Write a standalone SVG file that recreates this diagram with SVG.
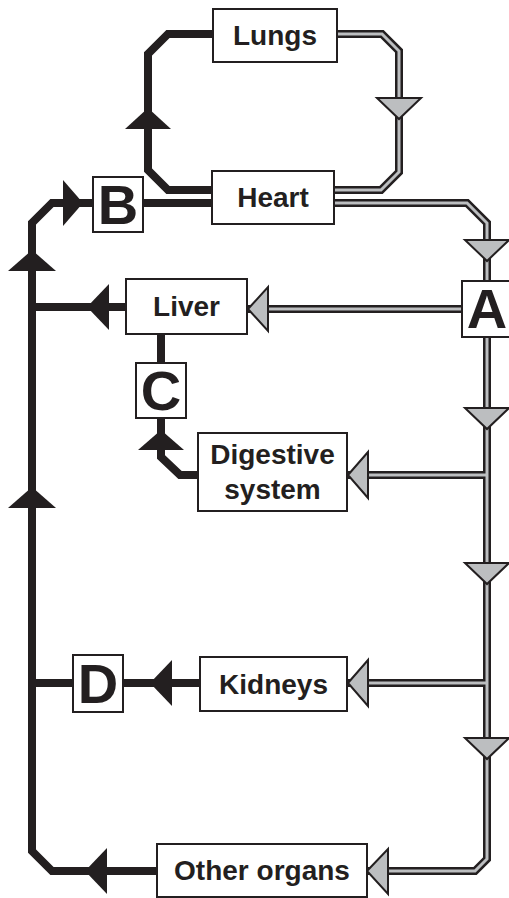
<svg xmlns="http://www.w3.org/2000/svg" width="509" height="898" viewBox="0 0 509 898">
<style>
.bk{fill:none;stroke:#231f20;stroke-width:8;stroke-linejoin:miter}
.go{fill:none;stroke:#231f20;stroke-width:8;stroke-linejoin:miter}
.gi{fill:none;stroke:#bcbec0;stroke-width:3;stroke-linejoin:miter}
.ba{fill:#231f20;stroke:none}
.ga{fill:#bcbec0;stroke:#231f20;stroke-width:2;stroke-linejoin:miter}
.box{fill:#fff;stroke:#231f20;stroke-width:2}
.lbl{font-family:"Liberation Sans",Arial,sans-serif;font-weight:bold;font-size:28px;fill:#231f20;text-anchor:middle}
.let{font-family:"Liberation Sans",Arial,sans-serif;font-weight:bold;font-size:56px;fill:#231f20;text-anchor:middle}
</style>
<rect width="509" height="898" fill="#fff"/>
<g id="connectors">
  <!-- black lines -->
  <path class="bk" d="M212,190 H168 L148,170 V54 L168,34 H213"/>
  <path class="bk" d="M212,203 H143"/>
  <path class="bk" d="M157,871 H52 L32,851 V223 L52,203 H93"/>
  <path class="bk" d="M126,307 H32"/>
  <path class="bk" d="M161,334 V363"/>
  <path class="bk" d="M161,418 V457 L180,475 H198"/>
  <path class="bk" d="M200,683 H123"/>
  <path class="bk" d="M73,683 H32"/>
  <!-- gray double lines: outlines -->
  <path class="go" d="M337,34 H382 L399,51 V172 L381,190 H334"/>
  <path class="go" d="M334,203 H467 L487,223 V859 L475,871 H367"/>
  <path class="go" d="M462,309 H247"/>
  <path class="go" d="M487,475 H347"/>
  <path class="go" d="M487,683 H347"/>
  <!-- gray double lines: inner -->
  <path class="gi" d="M337,34 H382 L399,51 V172 L381,190 H334"/>
  <path class="gi" d="M334,203 H467 L487,223 V859 L475,871 H367"/>
  <path class="gi" d="M462,309 H247"/>
  <path class="gi" d="M487,475 H347"/>
  <path class="gi" d="M487,683 H347"/>
  <!-- black arrowheads -->
  <polygon class="ba" points="148,108 171,129 125,129"/>
  <polygon class="ba" points="83,203 63,180 63,226"/>
  <polygon class="ba" points="32,250 56,271 8,271"/>
  <polygon class="ba" points="32,487 56,508 8,508"/>
  <polygon class="ba" points="87,307 109,284 109,330"/>
  <polygon class="ba" points="161,430 184,450 138,450"/>
  <polygon class="ba" points="150,683 172,660 172,706"/>
  <polygon class="ba" points="85,871 107,848 107,894"/>
  <!-- gray arrowheads -->
  <polygon class="ga" points="377,98 421,98 399,119"/>
  <polygon class="ga" points="465,240 509,240 487,261"/>
  <polygon class="ga" points="465,408 509,408 487,429"/>
  <polygon class="ga" points="465,563 509,563 487,584"/>
  <polygon class="ga" points="465,738 509,738 487,759"/>
  <polygon class="ga" points="248,309 268,287 268,331"/>
  <polygon class="ga" points="348,475 368,452 368,498"/>
  <polygon class="ga" points="348,683 368,660 368,706"/>
  <polygon class="ga" points="367,871 388,849 388,894"/>
</g>
<g id="lungs"><rect class="box" x="213" y="9" width="124" height="53"/><text class="lbl" x="275" y="45">Lungs</text></g>
<g id="heart"><rect class="box" x="212" y="171" width="122" height="53"/><text class="lbl" x="273" y="207">Heart</text></g>
<g id="liver"><rect class="box" x="126" y="279" width="121" height="55"/><text class="lbl" x="186.5" y="316">Liver</text></g>
<g id="digestive"><rect class="box" x="198" y="433" width="149" height="78"/><text class="lbl" x="272.5" y="464">Digestive</text><text class="lbl" x="272.5" y="499">system</text></g>
<g id="kidneys"><rect class="box" x="200" y="657" width="147" height="54"/><text class="lbl" x="273.5" y="694">Kidneys</text></g>
<g id="other"><rect class="box" x="157" y="844" width="210" height="53"/><text class="lbl" x="262" y="880">Other organs</text></g>
<g id="B"><rect class="box" x="93" y="177" width="50" height="55"/><text class="let" x="118" y="224">B</text></g>
<g id="C"><rect class="box" x="136" y="363" width="50" height="55"/><text class="let" x="161" y="410">C</text></g>
<g id="A"><rect class="box" x="462" y="281" width="50" height="56"/><text class="let" x="487" y="328">A</text></g>
<g id="D"><rect class="box" x="73" y="655" width="50" height="57"/><text class="let" x="98" y="703">D</text></g>
</svg>
